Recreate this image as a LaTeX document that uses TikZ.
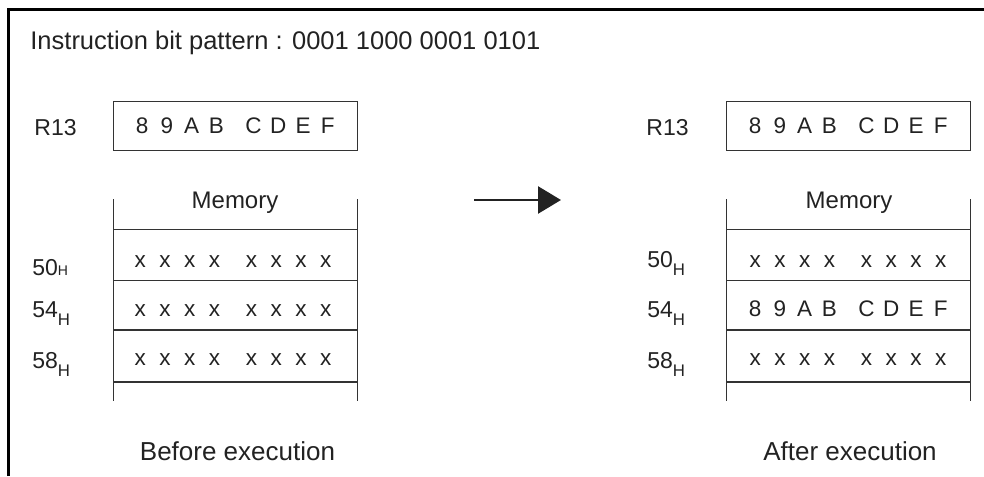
\documentclass[tikz,border=0pt]{standalone}
\usepackage{fontspec}
\setmainfont{Liberation Sans}
\usetikzlibrary{arrows.meta, positioning}
\definecolor{ink}{HTML}{222222}
\definecolor{rule}{HTML}{333333}
\newcommand{\nib}[1]{\makebox[1.1em]{#1}}
\newcommand{\hexword}[8]{\nib{#1}\nib{#2}\nib{#3}\nib{#4}\hspace{0.55em}\nib{#5}\nib{#6}\nib{#7}\nib{#8}}
\newcommand{\hsub}{\raisebox{-4pt}{\fontsize{8.4}{9}\selectfont H}}
\newcommand{\hsmall}{{\fontsize{7}{8}\selectfont H}}
\tikzset{
  headline/.style={anchor=base west,inner sep=0pt,font=\fontsize{12.75}{15}\selectfont,text=ink},
  regname/.style={anchor=base west,inner sep=0pt,font=\fontsize{11.5}{13}\selectfont,text=ink},
  regbox/.style={rectangle,draw=rule,line width=0.5pt,minimum width=122pt,minimum height=24pt,inner sep=0pt,font=\fontsize{11.25}{13}\selectfont,text=ink},
  memhead/.style={anchor=base,inner sep=0pt,font=\fontsize{12}{14}\selectfont,text=ink},
  cell/.style={anchor=base,inner sep=0pt,font=\fontsize{11.25}{13}\selectfont,text=ink},
  addr/.style={anchor=base west,inner sep=0pt,font=\fontsize{11.5}{13}\selectfont,text=ink},
  capt/.style={anchor=base,inner sep=0pt,font=\fontsize{13}{15}\selectfont,text=ink},
  memline/.style={draw=rule,line width=0.5pt},
  memline2/.style={draw=rule,line width=0.9pt},
  line/.style={-{Triangle[length=11.5pt,width=13.5pt]},line width=1.35pt,draw=ink}
}

\begin{document}
\begin{tikzpicture}[x=0.5pt,y=-0.5pt]
\useasboundingbox (0,0) rectangle (984,476);
% outer frame (only top and left are visible)
\draw[line width=1.25pt] (8.7,476) -- (8.7,9.5) -- (984,9.5);
\node[headline] (instr) at (30,50) {Instruction bit pattern : 0001 1000 0001 0101};

% before execution
\node[regname] (r13L) at (34,135) {R13};
\node[regbox] (regL) at (235,126) {\hexword89ABCDEF\hspace{3pt}};
\node[memhead] (memL) at (235,208) {Memory};
\draw[memline] (113,199) -- (113,401);
\draw[memline] (357,199) -- (357,401);
\draw[memline] (113,229) -- (357,229);
\draw[memline] (113,280) -- (357,280);
\draw[memline2] (113,330) -- (357,330);
\draw[memline2] (113,382) -- (357,382);
\node[addr] (a50L) at (32,275) {50\hsmall};
\node[addr] (a54L) at (32,317) {54\hsub};
\node[addr] (a58L) at (32,368) {58\hsub};
\node[cell] (c50L) at (233,267) {\hexword xxxxxxxx};
\node[cell] (c54L) at (233,316) {\hexword xxxxxxxx};
\node[cell] (c58L) at (233,365) {\hexword xxxxxxxx};
\node[capt] (before) at (237.5,460) {Before execution};

% arrow
\coordinate (go) at (474,200);
\coordinate (done) at (561,200);
\draw[line] (go) -- (done);

% after execution
\node[regname] (r13R) at (646,135) {R13};
\node[regbox] (regR) at (848,126) {\hexword89ABCDEF};
\node[memhead] (memR) at (849,208) {Memory};
\draw[memline] (726,199) -- (726,401);
\draw[memline] (970,199) -- (970,401);
\draw[memline] (726,229) -- (970,229);
\draw[memline] (726,280) -- (970,280);
\draw[memline2] (726,330) -- (970,330);
\draw[memline2] (726,382) -- (970,382);
\node[addr] (a50R) at (647,267) {50\hsub};
\node[addr] (a54R) at (647,317) {54\hsub};
\node[addr] (a58R) at (647,368) {58\hsub};
\node[cell] (c50R) at (848,267) {\hexword xxxxxxxx};
\node[cell] (c54R) at (848,316) {\hexword89ABCDEF};
\node[cell] (c58R) at (848,365) {\hexword xxxxxxxx};
\node[capt] (after) at (850,460) {After execution};
\end{tikzpicture}
\end{document}
